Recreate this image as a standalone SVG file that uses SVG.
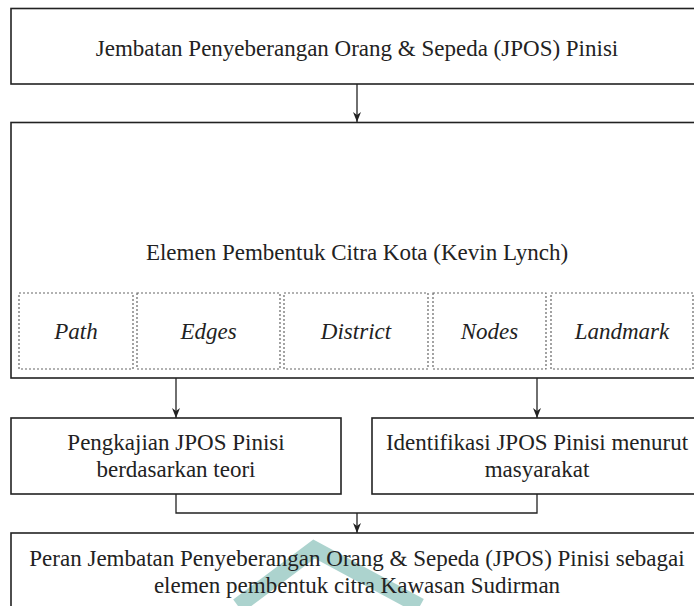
<svg xmlns="http://www.w3.org/2000/svg" width="694" height="606" viewBox="0 0 694 606">
<style>
.box{fill:none;stroke:#222;stroke-width:1.6}
.dot{fill:none;stroke:#666;stroke-width:1.2;stroke-dasharray:2 2}
.t{font-family:"Liberation Serif","Times New Roman",serif;font-size:23px;fill:#222;text-anchor:middle}
.i{font-style:italic}
.c{fill:none;stroke:#222;stroke-width:1.3}
</style>
<defs>
<marker id="ah" viewBox="0 0 10 8" refX="10" refY="4" markerWidth="10" markerHeight="8" markerUnits="userSpaceOnUse" orient="auto">
<path d="M0,0 L10,4 L0,8 L3,4 Z" fill="#222"/>
</marker>
</defs>
<rect width="694" height="606" fill="#fff"/>
<path d="M238,606 L314,549 L420,606" fill="none" stroke="#5aa89e" stroke-width="16" stroke-linejoin="miter" opacity="0.5"/>
<g id="n1">
<rect class="box" x="11" y="8.5" width="692" height="75.5"/>
<text class="t" x="357" y="56">Jembatan Penyeberangan Orang &amp; Sepeda (JPOS) Pinisi</text>
</g>
<g id="n2">
<rect class="box" x="11" y="122.5" width="692" height="255.5"/>
<text class="t" x="357" y="260">Elemen Pembentuk Citra Kota (Kevin Lynch)</text>
</g>
<g id="n2a"><rect class="dot" x="19" y="293" width="114" height="76"/><text class="t i" x="76" y="339">Path</text></g>
<g id="n2b"><rect class="dot" x="137" y="293" width="143" height="76"/><text class="t i" x="208.5" y="339">Edges</text></g>
<g id="n2c"><rect class="dot" x="284" y="293" width="144" height="76"/><text class="t i" x="356" y="339">District</text></g>
<g id="n2d"><rect class="dot" x="433" y="293" width="113" height="76"/><text class="t i" x="489.5" y="339">Nodes</text></g>
<g id="n2e"><rect class="dot" x="551" y="293" width="142" height="76"/><text class="t i" x="622" y="339">Landmark</text></g>
<g id="n3">
<rect class="box" x="11" y="418" width="330" height="76"/>
<text class="t" x="176" y="450">Pengkajian JPOS Pinisi</text>
<text class="t" x="176" y="477">berdasarkan teori</text>
</g>
<g id="n4">
<rect class="box" x="372" y="418" width="330" height="76"/>
<text class="t" x="537" y="450">Identifikasi JPOS Pinisi menurut</text>
<text class="t" x="537" y="477">masyarakat</text>
</g>
<g id="n5">
<rect class="box" x="11" y="533" width="692" height="80"/>
<text class="t" x="357" y="566">Peran Jembatan Penyeberangan Orang &amp; Sepeda (JPOS) Pinisi sebagai</text>
<text class="t" x="357" y="593">elemen pembentuk citra Kawasan Sudirman</text>
</g>
<g id="connectors">
<path class="c" d="M357,84 V122" marker-end="url(#ah)"/>
<path class="c" d="M176,378 V418" marker-end="url(#ah)"/>
<path class="c" d="M537,378 V418" marker-end="url(#ah)"/>
<path class="c" d="M176,494 V513 H537 V494"/>
<path class="c" d="M357,513 V533" marker-end="url(#ah)"/>
</g>
</svg>
